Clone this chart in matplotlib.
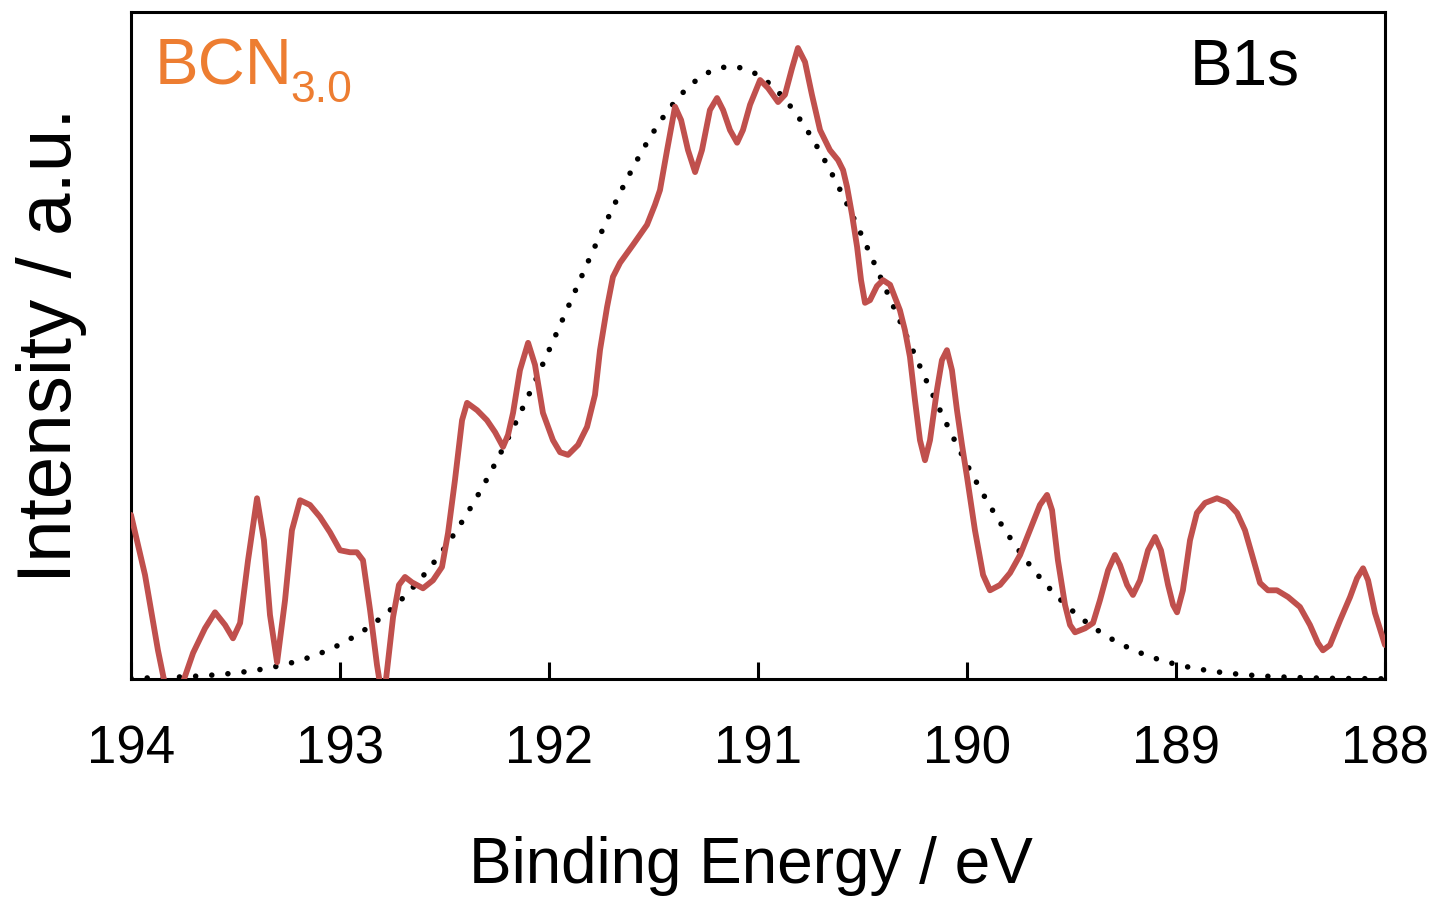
import matplotlib
matplotlib.use("Agg")
import matplotlib.pyplot as plt
import numpy as np

plt.rcParams['font.family'] = ['Liberation Sans', 'DejaVu Sans']

# Measured B1s spectrum (binding energy in eV, intensity in a.u.)
energy = [194.000, 193.933, 193.871, 193.837, 193.794, 193.756, 193.703, 193.646, 193.598, 193.550,
          193.512, 193.478, 193.440, 193.397, 193.364, 193.335, 193.301, 193.263, 193.230, 193.191,
          193.144, 193.096, 193.048, 193.000, 192.952, 192.919, 192.890, 192.856, 192.823, 192.804,
          192.780, 192.746, 192.718, 192.689, 192.656, 192.603, 192.555, 192.512, 192.483, 192.450,
          192.416, 192.392, 192.344, 192.297, 192.258, 192.220, 192.196, 192.172, 192.139, 192.100,
          192.067, 192.029, 191.981, 191.947, 191.909, 191.861, 191.818, 191.780, 191.756, 191.722,
          191.694, 191.660, 191.598, 191.531, 191.493, 191.469, 191.435, 191.397, 191.368, 191.335,
          191.301, 191.268, 191.230, 191.196, 191.167, 191.134, 191.100, 191.072, 191.038, 190.990,
          190.952, 190.904, 190.871, 190.837, 190.809, 190.775, 190.742, 190.703, 190.656, 190.617,
          190.593, 190.574, 190.550, 190.526, 190.507, 190.488, 190.464, 190.431, 190.402, 190.368,
          190.321, 190.297, 190.273, 190.249, 190.225, 190.201, 190.177, 190.144, 190.120, 190.096,
          190.072, 190.048, 190.024, 190.000, 189.962, 189.923, 189.890, 189.842, 189.794, 189.746,
          189.699, 189.651, 189.617, 189.593, 189.565, 189.531, 189.507, 189.483, 189.435, 189.397,
          189.364, 189.325, 189.292, 189.268, 189.234, 189.206, 189.172, 189.134, 189.100, 189.072,
          189.038, 189.014, 188.995, 188.967, 188.933, 188.900, 188.861, 188.804, 188.756, 188.708,
          188.670, 188.636, 188.598, 188.560, 188.517, 188.464, 188.407, 188.359, 188.321, 188.297,
          188.263, 188.215, 188.167, 188.134, 188.105, 188.081, 188.048, 188.000]

intensity = [24.6, 15.6, 4.3, -0.9, -3.1, -0.9, 3.9, 7.6, 10.0, 8.1,
             6.1, 8.4, 17.8, 27.1, 20.8, 9.6, 2.5, 11.8, 22.3, 26.8,
             26.1, 24.3, 22.0, 19.3, 19.0, 19.0, 17.8, 10.3, 2.1, -1.6,
             -0.1, 9.3, 14.1, 15.3, 14.5, 13.6, 14.8, 16.8, 21.9, 29.8,
             38.8, 41.4, 40.3, 38.8, 37.0, 34.8, 36.6, 39.9, 46.3, 50.4,
             47.1, 39.9, 35.8, 34.0, 33.6, 35.1, 37.8, 42.6, 49.3, 55.8,
             60.3, 62.4, 65.1, 68.1, 71.1, 73.3, 79.3, 85.8, 83.8, 79.3,
             76.0, 79.3, 85.3, 87.1, 85.3, 82.3, 80.4, 82.3, 86.1, 89.8,
             88.6, 86.5, 87.6, 91.6, 94.6, 92.5, 87.6, 82.3, 79.3, 77.8,
             76.3, 73.8, 69.6, 64.8, 59.8, 56.4, 56.8, 58.9, 59.8, 59.1,
             55.3, 52.3, 48.3, 41.8, 35.8, 32.8, 35.8, 43.3, 47.8, 49.3,
             46.3, 40.3, 35.1, 30.3, 22.3, 15.6, 13.3, 14.1, 15.9, 18.6,
             22.3, 26.1, 27.6, 25.3, 17.8, 11.1, 8.1, 7.0, 7.6, 8.4,
             11.8, 16.3, 18.6, 17.1, 14.1, 12.6, 14.8, 19.3, 21.3, 19.3,
             14.1, 11.1, 10.0, 13.3, 20.8, 24.9, 26.4, 27.1, 26.5, 24.9,
             22.3, 18.6, 14.4, 13.3, 13.3, 12.3, 10.8, 8.1, 5.4, 4.3,
             5.1, 8.8, 12.3, 15.1, 16.6, 14.8, 9.9, 5.1]

# Fitted Gaussian component
fit_center = 191.13
fit_height = 91.8
fit_sigma = 0.78

xticks = [194, 193, 192, 191, 190, 189, 188]
sample_label = "BCN"
sample_sub = "3.0"
region_label = "B1s"

fig = plt.figure(figsize=(14.32, 9.01), dpi=100)
ax = fig.add_axes([131/1432, 1 - 679/901, (1385-131)/1432, (679-12)/901])

fit_x = np.linspace(194, 188, 600)
fit_y = fit_height * np.exp(-(fit_x - fit_center) ** 2 / (2 * fit_sigma ** 2))
ax.plot(fit_x, fit_y, color='black', lw=4.0, linestyle=(0, (0.01, 2.9)),
        dash_capstyle='round', zorder=2)
ax.plot(energy, intensity, color='#C0504D', lw=4.2, solid_joinstyle='round',
        solid_capstyle='round', zorder=3)

ax.set_xlim(194, 188)
ax.set_ylim(0, 100)
ax.set_xticks(xticks)
ax.set_xticklabels([str(t) for t in xticks])
ax.set_yticks([])
ax.tick_params(axis='x', direction='in', length=12, width=2.2, labelsize=38, pad=33)
for s in ax.spines.values():
    s.set_linewidth(2.2)

ax.set_xlabel("Binding Energy / eV", fontsize=46)
ax.xaxis.set_label_coords(0.494, -0.236)
ax.xaxis.label.set_va('top')
ax.set_ylabel("Intensity / a.u.", fontsize=55, labelpad=32)

t1 = ax.text(0.019, 0.8906, sample_label, transform=ax.transAxes, fontsize=47,
             color='#ED7D31', ha='left', va='baseline')
ax.annotate(sample_sub, xy=(1, 0), xycoords=t1, xytext=(-2, -3),
            textcoords='offset points', fontsize=32, color='#ED7D31',
            ha='left', va='baseline')
ax.text(0.8445, 0.8906, region_label, transform=ax.transAxes, fontsize=46,
        color='black', ha='left', va='baseline')

fig.savefig("out.png", dpi=100)
